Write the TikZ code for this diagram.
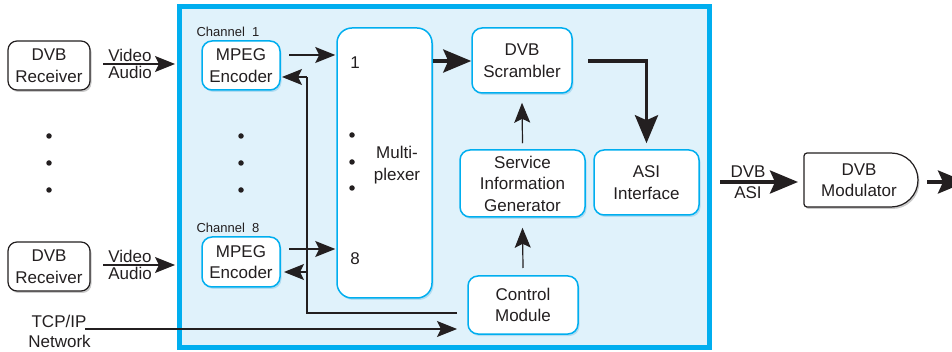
\documentclass[tikz,border=0pt]{standalone}
\usepackage{fontspec}
\setmainfont{Liberation Sans}
\usetikzlibrary{arrows.meta,shadows}
\definecolor{cy}{HTML}{00AEEF}
\definecolor{bg}{HTML}{E0F2FB}
\definecolor{ink}{HTML}{231F20}
\definecolor{sh}{HTML}{9FD3EE}
\begin{document}
\begin{tikzpicture}[x=1pt,y=-1pt,
  txt/.style={font=\fontsize{17}{21.5}\selectfont, text=ink, align=center},
  small/.style={font=\fontsize{13}{15}\selectfont, text=ink},
  cbox/.style={txt, draw=cy, line width=1.5pt, fill=white, rounded corners=10pt, inner sep=0pt,
     drop shadow={shadow xshift=1.5pt, shadow yshift=-2pt, fill=sh, opacity=0.7}},
  kbox/.style={txt, draw=ink, line width=1.2pt, fill=white, rounded corners=9pt, inner sep=0pt,
     drop shadow={shadow xshift=1.5pt, shadow yshift=-2pt, fill=black!35, opacity=0.6}},
  thin/.style={draw=ink, line width=1.2pt},
  tarr/.style={thin, -{Stealth[length=20pt,width=16pt,inset=4pt]}},
  karr/.style={draw=ink, line width=3.8pt, -{Stealth[length=28pt,width=23pt,inset=5pt]}},
  dot/.style={circle, fill=ink, inner sep=0pt, minimum size=5.5pt}
]
\useasboundingbox (0,0) rectangle (952,352);

% frame
\node[draw=cy, line width=5pt, fill=bg, minimum width=530pt, minimum height=341pt, inner sep=0pt] (frame) at (444.5,177) {};

% receivers
\node[kbox, minimum width=82pt, minimum height=49pt] (rx1) at (49,65.5) {DVB\\Receiver};
\node[kbox, minimum width=82pt, minimum height=49pt] (rx8) at (49,266.5) {DVB\\Receiver};
\node[dot] (d1) at (49,136) {};
\node[dot] (d2) at (49,163) {};
\node[dot] (d3) at (49,190) {};

% encoders
\node[small] (ch1) at (228,32) {Channel\ \ 1};
\node[small] (ch8) at (228,228) {Channel\ \ 8};
\node[cbox, minimum width=78pt, minimum height=49pt] (enc1) at (241,65.5) {MPEG\\Encoder};
\node[cbox, minimum width=78pt, minimum height=50pt] (enc8) at (241,262) {MPEG\\Encoder};
\node[dot] (e1) at (241,136) {};
\node[dot] (e2) at (241,163) {};
\node[dot] (e3) at (241,190) {};

% multiplexer
\node[cbox, rounded corners=15pt, minimum width=95pt, minimum height=270pt] (mux) at (384.5,163) {};
\node[txt] (muxl) at (397,165) {Multi-\\plexer};
\node[txt] (m1) at (355,63) {1};
\node[txt] (m8) at (355,259) {8};
\node[dot] (md1) at (352,135) {};
\node[dot] (md2) at (352,162) {};
\node[dot] (md3) at (352,188) {};

% right blocks
\node[cbox, minimum width=100pt, minimum height=65pt] (scr) at (522,60.5) {DVB\\Scrambler};
\node[cbox, minimum width=125pt, minimum height=67pt] (sig) at (522.5,183.5) {Service\\Information\\Generator};
\node[cbox, minimum width=105pt, minimum height=65pt] (asi) at (646.5,182.5) {ASI\\Interface};
\node[cbox, minimum width=110pt, minimum height=58pt] (ctrl) at (523,305) {Control\\Module};

% modulator
\draw[draw=ink, line width=1.2pt, fill=white, drop shadow={shadow xshift=1.5pt, shadow yshift=-2pt, fill=black!35, opacity=0.6}]
  (807,153) -- (891,153) arc (-90:90:27) -- (807,207) arc (90:180:3) -- (804,156) arc (180:270:3) -- cycle;
\node[txt] (mod) at (859,180) {DVB\\Modulator};

% inputs
\coordinate (va1) at (103,64);
\coordinate (va1e) at (175,64);
\draw[tarr] (va1) -- (va1e);
\node[txt, anchor=south] (vid1) at (130,65) {Video};
\node[txt, anchor=north] (aud1) at (130,63) {Audio};
\coordinate (va8) at (103,265);
\coordinate (va8e) at (175,265);
\draw[tarr] (va8) -- (va8e);
\node[txt, anchor=south] (vid8) at (130,266) {Video};
\node[txt, anchor=north] (aud8) at (130,264) {Audio};

% encoders to mux
\draw[tarr] (289,55) -- ([xshift=-1pt]mux.west |- 0,55);
\draw[tarr] (289,249) -- ([xshift=-1pt]mux.west |- 0,249);

% feedback from control
\coordinate (fb) at (457,313);
\coordinate (fbc) at (307,313);
\draw[thin] (fb) -- (fbc) -- (307,77);
\draw[tarr] (307,77) -- (282,77);
\draw[tarr] (307,272) -- (284,272);

% TCP/IP
\node[txt] (tcp) at (59,321) {TCP/IP};
\node[txt] (net) at (59.5,341) {Network};
\coordinate (tcpS) at (85,329);
\draw[tarr] (tcpS) -- (457,329);

% mux to scrambler
\draw[karr] (mux.east |- 0,61) -- (scr.west |- 0,61);
\draw[karr] (588,61) -| ([yshift=6pt]asi.north);

% SI / control
\draw[tarr] ([yshift=6pt]sig.north) -- ([yshift=-9pt]scr.south);
\draw[tarr] (523,268) -- ([yshift=-10pt]sig.south);

% output
\draw[karr] (720,182) -- (798,182);
\node[txt, anchor=south] (dvbl) at (748,181) {DVB};
\node[txt, anchor=north] (asil) at (748,183) {ASI};
\draw[karr] (927,182) -- (966,182);
\end{tikzpicture}
\end{document}
